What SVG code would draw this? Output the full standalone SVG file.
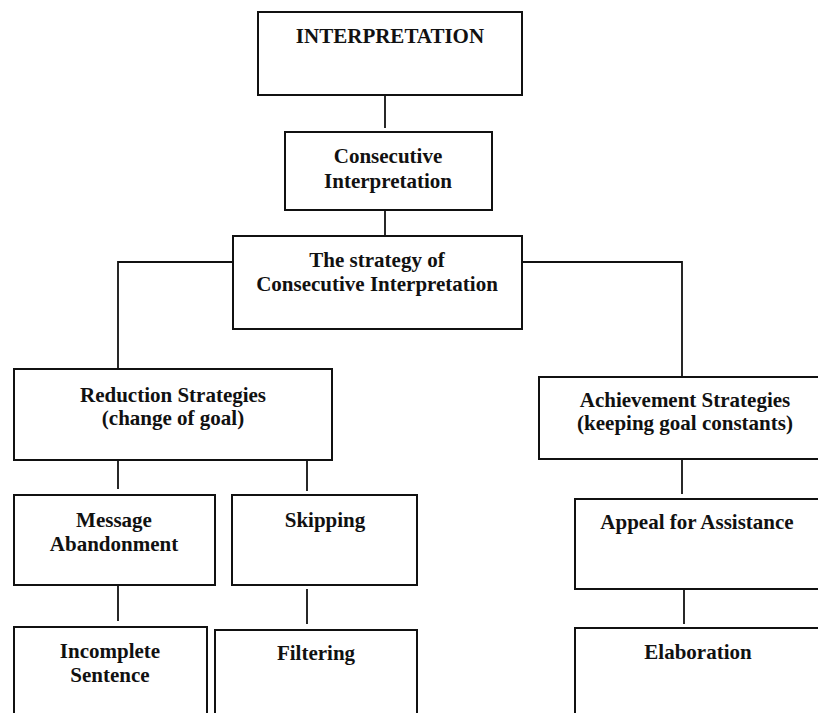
<svg xmlns="http://www.w3.org/2000/svg" width="818" height="713" viewBox="0 0 818 713">
<style>
.box{fill:#fff;stroke:#111;stroke-width:2}
.ln{fill:none;stroke:#111;stroke-width:1.8}
text{font-family:"Liberation Serif","Times New Roman",serif;font-weight:bold;font-size:21px;fill:#111;text-anchor:middle}
</style>
<rect width="818" height="713" fill="#fff"/>
<g id="connectors">
<path class="ln" d="M385 95V128"/>
<path class="ln" d="M385 207V236"/>
<path class="ln" d="M232 262H118V369"/>
<path class="ln" d="M522 262H682V377"/>
<path class="ln" d="M118 458V489"/>
<path class="ln" d="M307 455V491"/>
<path class="ln" d="M118 585V621"/>
<path class="ln" d="M307 589V624"/>
<path class="ln" d="M682 460V494"/>
<path class="ln" d="M684 589V624"/>
</g>
<g id="interpretation"><rect class="box" x="258" y="12" width="264" height="83"/><text x="390" y="43">INTERPRETATION</text></g>
<g id="consecutive"><rect class="box" x="285" y="132" width="207" height="78"/><text x="388" y="163">Consecutive</text><text x="388" y="188">Interpretation</text></g>
<g id="strategy"><rect class="box" x="233" y="236" width="289" height="93"/><text x="377" y="267">The strategy of</text><text x="377" y="291">Consecutive Interpretation</text></g>
<g id="reduction"><rect class="box" x="14" y="369" width="318" height="91"/><text x="173" y="402">Reduction Strategies</text><text x="173" y="425">(change of goal)</text></g>
<g id="achievement"><rect class="box" x="539" y="377" width="290" height="82"/><text x="685" y="407">Achievement Strategies</text><text x="685" y="430">(keeping goal constants)</text></g>
<g id="message"><rect class="box" x="14" y="495" width="201" height="90"/><text x="114" y="527">Message</text><text x="114" y="551">Abandonment</text></g>
<g id="skipping"><rect class="box" x="232" y="495" width="185" height="90"/><text x="325" y="527">Skipping</text></g>
<g id="appeal"><rect class="box" x="575" y="499" width="260" height="90"/><text x="697" y="529">Appeal for Assistance</text></g>
<g id="incomplete"><rect class="box" x="14" y="627" width="193" height="100"/><text x="110" y="658">Incomplete</text><text x="110" y="682">Sentence</text></g>
<g id="filtering"><rect class="box" x="215" y="630" width="202" height="100"/><text x="316" y="660">Filtering</text></g>
<g id="elaboration"><rect class="box" x="575" y="628" width="260" height="100"/><text x="698" y="659">Elaboration</text></g>
</svg>
